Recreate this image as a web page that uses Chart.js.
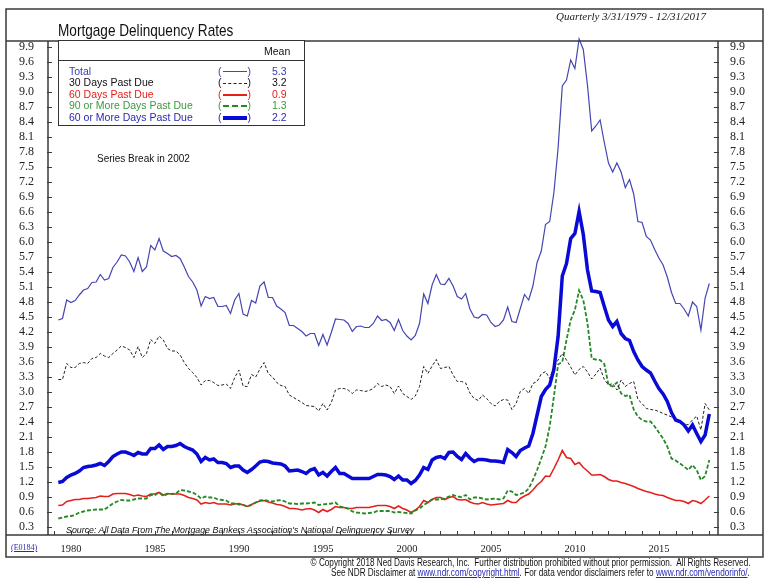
<!DOCTYPE html>
<html>
<head>
<meta charset="utf-8">
<title>Mortgage Delinquency Rates</title>
<script src="https://cdn.jsdelivr.net/npm/chart.js@4.4.1/dist/chart.umd.min.js"></script>
<style>
  body { margin: 0; background: #fff; }
  #wrap { position: relative; width: 768px; height: 585px; overflow: hidden; font-family: "Liberation Sans", Arial, sans-serif; }
  #wrap canvas { position: absolute; left: 0; top: 0; }
  .t { position: absolute; white-space: nowrap; line-height: 1; }
  .serif { font-family: "Liberation Serif", "Times New Roman", serif; }
  .squeezeL { transform-origin: left center; }
  .squeezeR { transform-origin: right center; }
  #legend { position: absolute; left: 58px; top: 40px; width: 247px; height: 86px; box-sizing: border-box; border: 1.5px solid #333; background: #fff; }
  #legend .hdr { position: absolute; left: 0; right: 0; top: 19px; border-top: 1.5px solid #333; }
  .sample { display: inline-block; width: 24px; vertical-align: middle; margin: 0 1px; }
  a { color: #2a2ab0; }
</style>
</head>
<body>
<div id="wrap">
  <canvas id="chart" width="768" height="585"></canvas>
  <div class="t squeezeL" style="left:58px; top:22px; font-size:17px; color:#111; transform:scaleX(0.8);">Mortgage Delinquency Rates</div>
  <div class="t serif" style="right:62px; top:11px; font-size:11px; font-style:italic; color:#222;">Quarterly 3/31/1979 - 12/31/2017</div>
  <div id="legend"><div class="hdr"></div></div>
  <div class="t" style="left:97px; top:154px; font-size:10px; color:#111;">Series Break in 2002</div>
  <div class="t squeezeL" style="left:66px; top:525px; font-size:9.5px; font-style:italic; color:#111; transform:scaleX(0.93);">Source: All Data From The Mortgage Bankers Association's National Delinquency Survey</div>
  <div class="t serif" style="left:11px; top:544px; font-size:8px; color:#2a2ab0; text-decoration:underline;">(E0184)</div>
  <div class="t squeezeR" style="right:18px; top:558px; font-size:10px; color:#111; transform:scaleX(0.82);">© Copyright 2018 Ned Davis Research, Inc.&nbsp; Further distribution prohibited without prior permission.&nbsp; All Rights Reserved.</div>
  <div class="t squeezeR" style="right:18px; top:568px; font-size:10px; color:#111; transform:scaleX(0.82);">See NDR Disclaimer at <a href="#">www.ndr.com/copyright.html</a>. For data vendor disclaimers refer to <a href="#">www.ndr.com/vendorinfo/</a>.</div>
</div>
<script>
// quarterly, 3/31/1979 .. 12/31/2017
const firstQuarter = 1979.25;

const seriesNames = ["Total", "30 Days Past Due", "60 Days Past Due", "90 or More Days Past Due", "60 or More Days Past Due"];
const seriesMeans = [5.3, 3.2, 0.9, 1.3, 2.2];

const total = [
  4.44, 4.47, 4.84, 4.79, 4.83, 4.94, 5.04, 5.07, 5.19, 5.20,
  5.35, 5.24, 5.27, 5.49, 5.60, 5.74, 5.72, 5.60, 5.41, 5.69,
  5.41, 5.50, 5.93, 5.84, 6.07, 5.82, 5.77, 5.71, 5.73, 5.67,
  5.50, 5.31, 5.20, 5.04, 4.72, 4.91, 4.87, 4.89, 4.71, 4.71,
  4.73, 4.57, 4.84, 4.97, 4.56, 4.52, 4.83, 4.78, 5.12, 5.20,
  4.89, 4.89, 4.72, 4.66, 4.59, 4.33, 4.33, 4.27, 4.21, 4.12,
  4.17, 4.17, 3.93, 4.15, 3.94, 4.19, 4.46, 4.45, 4.44, 4.37,
  4.21, 4.31, 4.32, 4.29, 4.29, 4.37, 4.52, 4.43, 4.45, 4.39,
  4.23, 4.45, 4.23, 4.12, 4.04, 4.13, 4.37, 4.96, 4.77, 5.14,
  5.35, 5.16, 5.15, 5.27, 5.12, 4.91, 4.86, 4.97, 4.66, 4.50,
  4.48, 4.55, 4.54, 4.39, 4.31, 4.34, 4.44, 4.70, 4.41, 4.39,
  4.67, 4.95, 4.84, 5.12, 5.59, 5.82, 6.35, 6.41, 6.99, 7.88,
  9.12, 9.24, 9.64, 9.47, 10.06, 9.85, 9.13, 8.22, 8.32, 8.44,
  7.99, 7.58, 7.40, 7.58, 7.40, 7.09, 7.25, 6.96, 6.41, 6.39,
  6.11, 6.04, 5.85, 5.68, 5.54, 5.30, 4.99, 4.77, 4.77, 4.66,
  4.52, 4.80, 4.71, 4.24, 4.88, 5.17
];

const days30 = [
  3.25, 3.25, 3.57, 3.49, 3.49, 3.57, 3.59, 3.57, 3.67, 3.69,
  3.77, 3.72, 3.69, 3.77, 3.84, 3.92, 3.89, 3.84, 3.69, 3.91,
  3.69, 3.77, 4.05, 3.97, 4.12, 4.04, 3.87, 3.82, 3.82, 3.74,
  3.59, 3.47, 3.39, 3.29, 3.14, 3.23, 3.23, 3.19, 3.13, 3.14,
  3.16, 3.07, 3.29, 3.44, 3.12, 3.11, 3.35, 3.30, 3.46, 3.59,
  3.37, 3.30, 3.19, 3.13, 3.11, 2.94, 2.89, 2.84, 2.79, 2.73,
  2.72, 2.71, 2.62, 2.77, 2.64, 2.79, 3.04, 3.07, 3.07, 3.04,
  2.97, 3.04, 3.03, 3.01, 3.03, 3.07, 3.17, 3.11, 3.14, 3.11,
  2.97, 3.12, 2.97, 2.91, 2.85, 2.92, 3.11, 3.51, 3.37, 3.52,
  3.65, 3.47, 3.49, 3.51, 3.34, 3.21, 3.21, 3.18, 2.98, 2.87,
  2.83, 2.94, 2.87, 2.77, 2.72, 2.81, 2.85, 2.84, 2.65, 2.77,
  3.01, 3.07, 2.97, 3.17, 3.21, 3.36, 3.41, 3.27, 3.51, 3.64,
  3.77, 3.64, 3.50, 3.34, 3.45, 3.51, 3.40, 3.26, 3.36, 3.48,
  3.25, 3.14, 3.17, 3.04, 3.24, 3.11, 3.17, 3.21, 2.85, 2.77,
  2.67, 2.65, 2.64, 2.61, 2.57, 2.54, 2.50, 2.47, 2.41, 2.34,
  2.35, 2.44, 2.52, 2.24, 2.77, 2.64
];

const days60 = [
  0.73, 0.74, 0.81, 0.83, 0.85, 0.85, 0.87, 0.87, 0.88, 0.89,
  0.92, 0.91, 0.91, 0.96, 0.97, 0.97, 0.97, 0.95, 0.92, 0.94,
  0.92, 0.91, 0.96, 0.96, 0.99, 0.94, 0.97, 0.96, 0.96, 0.96,
  0.93, 0.89, 0.87, 0.84, 0.76, 0.79, 0.77, 0.79, 0.76, 0.76,
  0.76, 0.74, 0.76, 0.77, 0.74, 0.71, 0.75, 0.79, 0.82, 0.83,
  0.80, 0.78, 0.75, 0.74, 0.71, 0.67, 0.67, 0.66, 0.64, 0.66,
  0.67, 0.64, 0.59, 0.65, 0.61, 0.65, 0.71, 0.69, 0.69, 0.67,
  0.67, 0.69, 0.69, 0.69, 0.69, 0.71, 0.73, 0.73, 0.73, 0.71,
  0.67, 0.72, 0.67, 0.64, 0.59, 0.64, 0.71, 0.83, 0.79, 0.85,
  0.89, 0.89, 0.85, 0.89, 0.91, 0.85, 0.84, 0.85, 0.80, 0.77,
  0.76, 0.79, 0.76, 0.74, 0.75, 0.76, 0.77, 0.83, 0.79, 0.79,
  0.87, 0.92, 0.96, 1.04, 1.14, 1.21, 1.32, 1.31, 1.47, 1.64,
  1.83, 1.69, 1.67, 1.55, 1.59, 1.49, 1.42, 1.34, 1.34, 1.35,
  1.31, 1.25, 1.22, 1.22, 1.19, 1.17, 1.14, 1.11, 1.07, 1.04,
  1.01, 0.99, 0.96, 0.94, 0.93, 0.89, 0.86, 0.83, 0.83, 0.81,
  0.77, 0.83, 0.81, 0.77, 0.84, 0.92
];

const days90plus = [
  0.47, 0.49, 0.51, 0.52, 0.54, 0.59, 0.61, 0.63, 0.64, 0.65,
  0.65, 0.65, 0.71, 0.77, 0.81, 0.84, 0.83, 0.83, 0.85, 0.87,
  0.87, 0.87, 0.94, 0.94, 0.99, 0.92, 0.96, 0.96, 0.97, 1.04,
  1.03, 1.01, 0.99, 0.94, 0.87, 0.91, 0.89, 0.89, 0.85, 0.84,
  0.83, 0.77, 0.77, 0.75, 0.74, 0.71, 0.74, 0.79, 0.83, 0.84,
  0.82, 0.81, 0.83, 0.84, 0.81, 0.77, 0.77, 0.76, 0.77, 0.77,
  0.78, 0.79, 0.74, 0.75, 0.76, 0.77, 0.79, 0.71, 0.69, 0.67,
  0.61, 0.59, 0.58, 0.57, 0.58, 0.59, 0.62, 0.62, 0.62, 0.62,
  0.59, 0.60, 0.59, 0.58, 0.57, 0.63, 0.67, 0.74, 0.79, 0.85,
  0.85, 0.85, 0.87, 0.91, 0.94, 0.91, 0.90, 0.94, 0.85, 0.89,
  0.89, 0.87, 0.85, 0.86, 0.87, 0.85, 0.87, 1.03, 1.01, 0.94,
  0.96, 0.99, 1.07, 1.24, 1.44, 1.67, 1.91, 2.31, 2.91, 3.55,
  3.60, 4.04, 4.44, 4.64, 5.03, 4.84, 4.37, 3.67, 3.65, 3.64,
  3.56, 3.14, 3.11, 3.19, 2.97, 2.92, 2.94, 2.65, 2.51, 2.44,
  2.41, 2.41, 2.31, 2.19, 2.07, 1.91, 1.67, 1.63, 1.57, 1.51,
  1.44, 1.54, 1.44, 1.24, 1.32, 1.64
];

const days60plus = [
  1.19, 1.21, 1.29, 1.34, 1.37, 1.42, 1.49, 1.51, 1.52, 1.54,
  1.57, 1.53, 1.61, 1.71, 1.76, 1.80, 1.80, 1.77, 1.73, 1.79,
  1.76, 1.76, 1.87, 1.87, 1.94, 1.85, 1.91, 1.91, 1.93, 1.97,
  1.91, 1.87, 1.84, 1.76, 1.61, 1.69, 1.64, 1.66, 1.59, 1.59,
  1.57, 1.49, 1.52, 1.52, 1.44, 1.39, 1.45, 1.52, 1.60, 1.62,
  1.61, 1.58, 1.57, 1.56, 1.52, 1.42, 1.43, 1.44, 1.41, 1.37,
  1.44, 1.47, 1.34, 1.39, 1.32, 1.41, 1.49, 1.37, 1.37, 1.32,
  1.27, 1.27, 1.27, 1.27, 1.27, 1.31, 1.35, 1.35, 1.34, 1.31,
  1.25, 1.32, 1.24, 1.24, 1.17, 1.23, 1.34, 1.49, 1.45, 1.64,
  1.69, 1.71, 1.67, 1.79, 1.80, 1.71, 1.65, 1.77, 1.68, 1.61,
  1.65, 1.65, 1.64, 1.62, 1.62, 1.61, 1.59, 1.85, 1.79, 1.71,
  1.83, 1.88, 1.92, 2.17, 2.54, 2.91, 3.05, 3.14, 3.45, 4.11,
  5.32, 5.57, 6.07, 6.17, 6.61, 6.15, 5.44, 5.02, 5.01, 4.99,
  4.71, 4.44, 4.31, 4.41, 4.17, 4.07, 4.03, 3.81, 3.64, 3.51,
  3.44, 3.38, 3.22, 3.07, 2.96, 2.81, 2.59, 2.44, 2.41, 2.34,
  2.22, 2.34, 2.17, 2.01, 2.14, 2.56
];

const yTicks = [0.3, 0.6, 0.9, 1.2, 1.5, 1.8, 2.1, 2.4, 2.7, 3.0, 3.3, 3.6, 3.9, 4.2, 4.5, 4.8,
  5.1, 5.4, 5.7, 6.0, 6.3, 6.6, 6.9, 7.2, 7.5, 7.8, 8.1, 8.4, 8.7, 9.0, 9.3, 9.6, 9.9];
const labelYears = [1980, 1985, 1990, 1995, 2000, 2005, 2010, 2015];
const yMin = 0.14, yMax = 10.02;
const xMin = 1978.637, xMax = 2018.518;

const colors = ["#4545b2", "#222222", "#e3211c", "#248a24", "#0a0ad6"];
const textColors = ["#3a3ab8", "#111111", "#e3211c", "#3a9a3a", "#2a2ab0"];

function points(arr) {
  return arr.map((v, i) => ({ x: firstQuarter + i * 0.25, y: v }));
}

const tickYears = [];
for (let y = 1979; y <= 2018; y++) tickYears.push(y);

// legend box with means
const legend = document.getElementById("legend");
const mean = document.createElement("div");
mean.className = "t";
mean.style.cssText = "left:205px; top:5px; font-size:10.5px; color:#111;";
mean.textContent = "Mean";
legend.appendChild(mean);

const samples = [
  "border-top:1px solid " + colors[0],
  "border-top:1px dashed " + colors[1],
  "border-top:2px solid " + colors[2],
  "border-top:2px dashed " + colors[3],
  "border-top:4px solid " + colors[4]
];
seriesNames.forEach((name, i) => {
  const top = 24.5 + i * 11.5;
  const lab = document.createElement("div");
  lab.className = "t";
  lab.style.cssText = `left:10px; top:${top}px; font-size:10.5px; color:${textColors[i]};`;
  lab.textContent = name;
  legend.appendChild(lab);

  const smp = document.createElement("div");
  smp.className = "t";
  smp.style.cssText = `left:159px; top:${top}px; font-size:10.5px; color:${textColors[i]};`;
  smp.innerHTML = `(<span class="sample" style="${samples[i]}"></span>)`;
  legend.appendChild(smp);

  const m = document.createElement("div");
  m.className = "t";
  m.style.cssText = `left:213px; top:${top}px; font-size:10.5px; color:${textColors[i]};`;
  m.textContent = seriesMeans[i].toFixed(1);
  legend.appendChild(m);
});

const framePlugin = {
  id: "frame",
  afterDraw(chart) {
    const { ctx, chartArea: a, scales } = chart;
    const L = 6, R = 763, T = 9, B = 557;
    ctx.save();
    ctx.strokeStyle = "#3a3a3a";
    ctx.lineWidth = 1.5;
    ctx.strokeRect(L, T, R - L, B - T);
    ctx.beginPath();
    ctx.moveTo(L, a.top); ctx.lineTo(R, a.top);
    ctx.moveTo(L, a.bottom); ctx.lineTo(R, a.bottom);
    ctx.moveTo(a.left, a.top); ctx.lineTo(a.left, a.bottom);
    ctx.moveTo(a.right, a.top); ctx.lineTo(a.right, a.bottom);
    ctx.stroke();

    ctx.lineWidth = 1;
    ctx.beginPath();
    scales.y.ticks.forEach(t => {
      const py = Math.round(scales.y.getPixelForValue(t.value)) + 0.5;
      ctx.moveTo(a.left - 1, py); ctx.lineTo(a.left + 4, py);
      ctx.moveTo(a.right - 4, py); ctx.lineTo(a.right + 1, py);
    });
    scales.x.ticks.forEach(t => {
      const px = Math.round(scales.x.getPixelForValue(t.value)) + 0.5;
      ctx.moveTo(px, a.bottom); ctx.lineTo(px, a.bottom - 4);
    });
    ctx.stroke();
    ctx.restore();
  }
};

const yAxis = (pos, width, pad) => ({
  position: pos,
  min: yMin,
  max: yMax,
  afterBuildTicks: s => { s.ticks = yTicks.map(v => ({ value: v })); },
  afterFit: s => { s.width = width; },
  grid: { display: false, drawTicks: false },
  border: { display: false },
  ticks: {
    autoSkip: false,
    padding: pad,
    color: "#222",
    font: { family: '"Liberation Serif", "Times New Roman", serif', size: 12 },
    callback: v => v.toFixed(1)
  }
});

const mk = (arr, i, width, dash) => ({
  label: seriesNames[i],
  data: points(arr),
  borderColor: colors[i],
  borderWidth: width,
  borderDash: dash,
  pointRadius: 0,
  tension: 0,
  fill: false,
  clip: false,
  yAxisID: "y"
});

new Chart(document.getElementById("chart"), {
  type: "line",
  data: {
    datasets: [
      mk(days60plus, 4, 3.5, []),
      mk(total, 0, 1.2, []),
      mk(days30, 1, 1, [3, 2]),
      mk(days90plus, 3, 1.8, [4, 2]),
      mk(days60, 2, 1.6, [])
    ]
  },
  options: {
    responsive: false,
    animation: false,
    devicePixelRatio: 1,
    layout: { padding: { left: 6, right: 6, top: 41, bottom: 28 } },
    plugins: { legend: { display: false }, tooltip: { enabled: false } },
    scales: {
      x: {
        type: "linear",
        min: xMin,
        max: xMax,
        afterBuildTicks: s => { s.ticks = tickYears.map(v => ({ value: v })); },
        afterFit: s => { s.height = 22; },
        grid: { display: false, drawTicks: false },
        border: { display: false },
        ticks: {
          autoSkip: false,
          maxRotation: 0,
          padding: 8,
          color: "#222",
          font: { family: '"Liberation Serif", "Times New Roman", serif', size: 10.5 },
          callback: v => labelYears.includes(v) ? String(v) : ""
        }
      },
      y: yAxis("left", 42, 14),
      y2: yAxis("right", 44, 12)
    }
  },
  plugins: [framePlugin]
});
</script>
</body>
</html>
